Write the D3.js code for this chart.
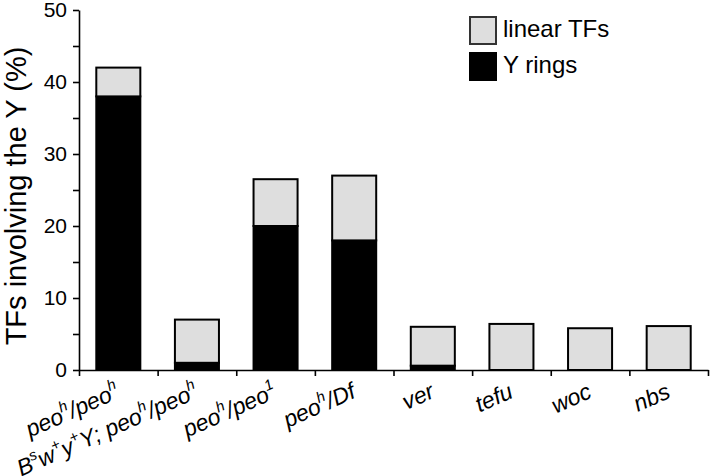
<!DOCTYPE html>
<html>
<head>
<meta charset="utf-8">
<script src="https://cdn.jsdelivr.net/npm/d3@7"></script>
<style>
  html, body { margin: 0; padding: 0; background: #fff; }
  svg { display: block; font-family: "Liberation Sans", Arial, Helvetica, sans-serif; }
</style>
</head>
<body>
<svg id="chart" width="717" height="476"></svg>
<script>
// ---- data ----
const categories = [
  "peo^{h}/peo^{h}",
  "B^{s}w^{+}y^{+}Y; peo^{h}/peo^{h}",
  "peo^{h}/peo^{1}",
  "peo^{h}/Df",
  "ver",
  "tefu",
  "woc",
  "nbs"
];
const yRings    = [38, 1, 20, 18, 0.6, 0, 0, 0];
const linearTFs = [4, 6, 6.5, 9, 5.4, 6.4, 5.8, 6.1];
const seriesKeys = ["yRings", "linearTFs"];
const seriesLabels = { yRings: "Y rings", linearTFs: "linear TFs" };
const seriesColors = { yRings: "#000000", linearTFs: "#dedede" };
const yTickValues = [0, 5, 10, 15, 20, 25, 30, 35, 40, 45, 50];
const yTitle = "TFs involving the Y (%)";

// ---- layout ----
const svg = d3.select("#chart");
svg.append("rect").attr("width", 717).attr("height", 476).attr("fill", "#fff");

const x0 = 79, x1 = 708, yBase = 370, yTop = 10;
const x = d3.scaleBand().domain(d3.range(categories.length)).range([x0, x1])
  .paddingInner(0.44).paddingOuter(0.22);
const xi = d3.scaleLinear().domain([0, categories.length]).range([x0, x1]);
const y = d3.scaleLinear().domain([0, 50]).range([yBase, yTop]);

const rows = categories.map((c, i) => ({ i, yRings: yRings[i], linearTFs: linearTFs[i] }));
const stacked = d3.stack().keys(seriesKeys)(rows);

// bars
const g = svg.append("g");
stacked.forEach(s => {
  g.selectAll(null).data(s.filter(d => d[1] - d[0] > 0)).enter().append("rect")
    .attr("x", d => x(d.data.i))
    .attr("width", x.bandwidth())
    .attr("y", d => y(d[1]))
    .attr("height", d => y(d[0]) - y(d[1]))
    .attr("fill", seriesColors[s.key])
    .attr("stroke", "#000")
    .attr("stroke-width", 2);
});

// y axis
const yAxis = svg.append("g").attr("transform", `translate(${x0},0)`)
  .call(d3.axisLeft(y).tickValues(yTickValues)
    .tickFormat(d => d % 10 === 0 ? d : "").tickSize(6).tickSizeOuter(0).tickPadding(6));
yAxis.select(".domain").attr("stroke", "#000").attr("stroke-width", 1.6);
yAxis.selectAll(".tick line").attr("stroke", "#000").attr("stroke-width", 1.6);
yAxis.selectAll(".tick text").attr("font-size", 21).attr("fill", "#000")
  .attr("font-family", "'Liberation Sans', Arial, sans-serif");

// x axis
const xAxis = svg.append("g").attr("transform", `translate(0,${yBase})`)
  .call(d3.axisBottom(xi).ticks(categories.length).tickFormat("").tickSize(6).tickSizeOuter(0));
xAxis.select(".domain").attr("stroke", "#000").attr("stroke-width", 1.6);
xAxis.selectAll(".tick line").attr("stroke", "#000").attr("stroke-width", 1.6);

// x labels with superscripts
function parseLabel(s) {
  const parts = [];
  const re = /\^\{([^}]*)\}/g;
  let last = 0, m;
  while ((m = re.exec(s)) !== null) {
    if (m.index > last) parts.push({ t: s.slice(last, m.index), sup: false });
    parts.push({ t: m[1], sup: true });
    last = re.lastIndex;
  }
  if (last < s.length) parts.push({ t: s.slice(last), sup: false });
  return parts;
}
categories.forEach((c, i) => {
  const cx = x(i) + x.bandwidth() / 2;
  const t = svg.append("text")
    .attr("transform", `translate(${cx + 3},${yBase + 27}) rotate(-24)`)
    .attr("text-anchor", "end")
    .attr("font-size", 23)
    .attr("font-style", "italic")
    .attr("fill", "#000");
  let raised = false;
  parseLabel(c).forEach(p => {
    const ts = t.append("tspan").text(p.t);
    if (p.sup && !raised) { ts.attr("dy", -10).attr("font-size", 15); raised = true; }
    else if (p.sup) { ts.attr("font-size", 15); }
    else if (!p.sup && raised) { ts.attr("dy", 10); raised = false; }
  });
});

// y title
svg.append("text")
  .attr("transform", `translate(26,${(yBase + yTop) / 2 + 6}) rotate(-90)`)
  .attr("text-anchor", "middle")
  .attr("font-size", 29)
  .attr("fill", "#000")
  .text(yTitle);

// legend
const legendOrder = ["linearTFs", "yRings"];
const lg = svg.append("g").attr("transform", "translate(470,17)");
legendOrder.forEach((k, j) => {
  lg.append("rect").attr("x", 0).attr("y", j * 36).attr("width", 26).attr("height", 27)
    .attr("fill", seriesColors[k]).attr("stroke", k === "yRings" ? "#000" : "#333").attr("stroke-width", 2);
  lg.append("text").attr("x", 33).attr("y", j * 36 + 20).attr("font-size", 24).attr("fill", "#000")
    .text(seriesLabels[k]);
});
</script>
</body>
</html>
